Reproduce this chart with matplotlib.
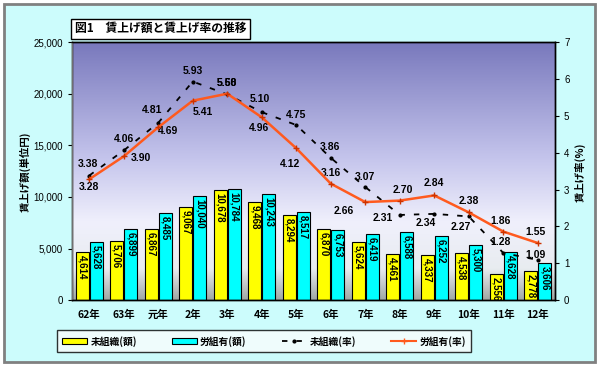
import matplotlib
matplotlib.use("Agg")
import matplotlib.pyplot as plt
import numpy as np
from matplotlib.colors import LinearSegmentedColormap
from matplotlib.patches import Rectangle, Patch
from matplotlib.lines import Line2D

plt.rcParams['font.family'] = ['Noto Sans CJK JP', 'DejaVu Sans']
NUMFONT = ['Liberation Sans', 'DejaVu Sans']

# データ
years = ['62年', '63年', '元年', '2年', '3年', '4年', '5年', '6年', '7年', '8年',
         '9年', '10年', '11年', '12年']
gaku_mi = [4614, 5706, 6867, 9067, 10678, 9468, 8294, 6870, 5624, 4461, 4337, 4538, 2556, 2778]
gaku_ro = [5628, 6899, 8485, 10040, 10784, 10243, 8517, 6753, 6419, 6588, 6252, 5300, 4628, 3606]
ritsu_mi = [3.38, 4.06, 4.81, 5.93, 5.58, 5.10, 4.75, 3.86, 3.07, 2.31, 2.34, 2.27, 1.28, 1.09]
ritsu_ro = [3.28, 3.90, 4.69, 5.41, 5.60, 4.96, 4.12, 3.16, 2.66, 2.70, 2.84, 2.38, 1.86, 1.55]

# ラベル位置(ピクセルずらし)
off_mi = [(-1, 12), (0, 11), (-6, 13), (0, 11), (0, 11), (-2, 13), (0, 10), (-1, 11),
          (0, 10), (-17, -3), (-9, -9), (-8, -11), (-3, 11), (-2, 5)]
off_ro = [(0, -8), (17, -2), (10, -4), (10, -11), (0, 11), (-3, -11), (-6, -16), (0, 11),
          (-22, -9), (3, 11), (0, 12), (0, 11), (-3, 11), (-2, 11)]

fig = plt.figure(figsize=(6, 3.66), dpi=100)
fig.patch.set_facecolor('white')
# 外枠
fig.patches.append(Rectangle((0.006, 0.01), 0.985, 0.98, transform=fig.transFigure,
                             facecolor='#ccfcfc', edgecolor='#808080', lw=2, zorder=-10))

ax = fig.add_axes([0.12, 0.18, 0.805, 0.705])
x = np.arange(len(years))

# 背景グラデーション
cmap = LinearSegmentedColormap.from_list('bg', [(0, '#a0a8a4'), (0.12, '#e8ecf0'),
                                                (0.3, '#f0f0fc'), (0.55, '#c4c4ec'),
                                                (1, '#7878bc')])
grad = np.linspace(0, 1, 256).reshape(-1, 1)
ax.imshow(grad, cmap=cmap, aspect='auto', origin='lower', extent=[0, 1, 0, 1],
          transform=ax.transAxes, zorder=0)

w = 0.37
ax.bar(x - w / 2 - 0.02, gaku_mi, w, color='#ffff00', edgecolor='black', lw=0.8, zorder=2)
ax.bar(x + w / 2 + 0.02, gaku_ro, w, color='#00ffff', edgecolor='black', lw=0.8, zorder=2)
for i in range(len(years)):
    ax.annotate(f'{gaku_mi[i]:,}', (x[i] - w / 2 - 0.02, gaku_mi[i]), xytext=(0, -3),
                textcoords='offset pixels', rotation=-90, ha='center', va='top',
                fontsize=7, fontweight='bold', family=NUMFONT, zorder=5)
    ax.annotate(f'{gaku_ro[i]:,}', (x[i] + w / 2 + 0.02, gaku_ro[i]), xytext=(0, -3),
                textcoords='offset pixels', rotation=-90, ha='center', va='top',
                fontsize=7, fontweight='bold', family=NUMFONT, zorder=5)

ax.set_xlim(-0.5, len(years) - 0.5)
ax.set_ylim(0, 25000)
ax.set_yticks(range(0, 25001, 5000))
ax.set_yticklabels([f'{v:,}' for v in range(0, 25001, 5000)], fontsize=7, family=NUMFONT)
ax.set_xticks(x)
ax.set_xticklabels(years, fontsize=7.5, fontweight='bold')
ax.tick_params(axis='x', length=0, pad=7)
ax.tick_params(axis='y', length=3, direction='out')
fig.text(0.042, 0.53, '賃上げ額(単位円)', fontsize=7.5, fontweight='bold', rotation=90,
         ha='center', va='center')

ax2 = ax.twinx()
ax2.set_ylim(0, 7)
ax2.set_yticks(range(0, 8))
ax2.set_yticklabels([str(v) for v in range(0, 8)], fontsize=7, family=NUMFONT)
ax2.tick_params(axis='y', length=3)
ax2.plot(x, ritsu_mi, color='black', ls=(0, (3, 5)), lw=1.3, marker='.', ms=4, zorder=3)
ax2.plot(x, ritsu_ro, color='#ff5a1e', lw=1.8, marker='+', ms=4, mec='#cc3300', zorder=4)
for i in range(len(years)):
    ax2.annotate(f'{ritsu_mi[i]:.2f}', (x[i], ritsu_mi[i]), xytext=off_mi[i],
                 textcoords='offset pixels', ha='center', va='center',
                 fontsize=7.5, fontweight='bold', family=NUMFONT)
    ax2.annotate(f'{ritsu_ro[i]:.2f}', (x[i], ritsu_ro[i]), xytext=off_ro[i],
                 textcoords='offset pixels', ha='center', va='center',
                 fontsize=7.5, fontweight='bold', family=NUMFONT)
fig.text(0.967, 0.53, '賃上げ率(%)', fontsize=7.5, fontweight='bold', rotation=90,
         ha='center', va='center')

for a in (ax, ax2):
    for s in a.spines.values():
        s.set_color('black')
        s.set_linewidth(1)
ax2.spines['left'].set_color('#707070')

# タイトル
fig.text(0.125, 0.922, '図1　賃上げ額と賃上げ率の推移', fontsize=8.5, fontweight='bold',
         va='center', ha='left',
         bbox=dict(boxstyle='square,pad=0.3', facecolor='white', edgecolor='black', lw=1))

# 凡例
handles = [Patch(facecolor='#ffff00', edgecolor='black', lw=0.8),
           Patch(facecolor='#00ffff', edgecolor='black', lw=0.8),
           Line2D([], [], color='black', ls=(0, (3, 5)), lw=1.3, marker='.', ms=4),
           Line2D([], [], color='#ff5a1e', lw=1.5, marker='+', ms=4)]
labels = ['未組織(額)', '労組有(額)', '未組織(率)', '労組有(率)']
leg = fig.legend(handles, labels, loc='center', bbox_to_anchor=(0.44, 0.068), ncol=4,
                 fontsize=7, frameon=True, fancybox=False, edgecolor='black',
                 handlelength=2.6, handleheight=0.7, columnspacing=3.6, handletextpad=0.3,
                 borderpad=0.55)
leg.get_frame().set_facecolor('#f8fcfc')
for t in leg.get_texts():
    t.set_fontweight('bold')

fig.savefig('out.png', dpi=100)
